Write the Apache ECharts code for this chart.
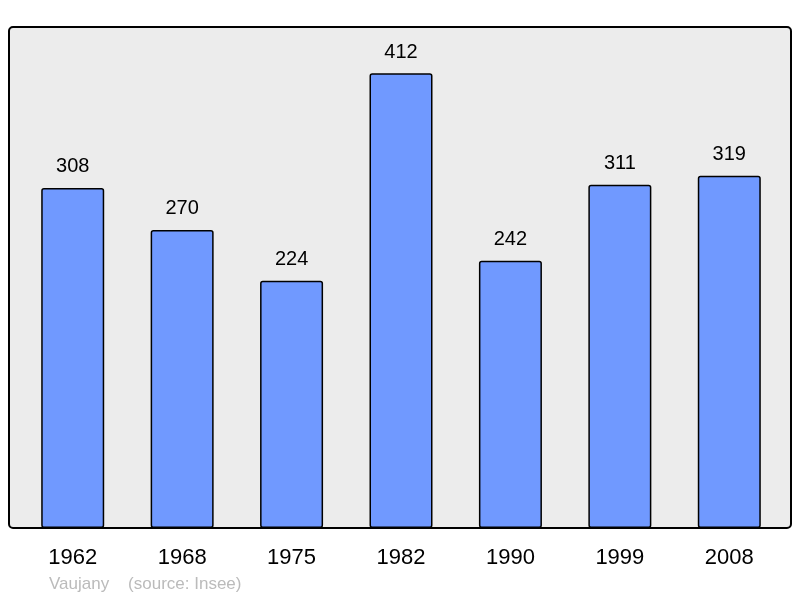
<!DOCTYPE html>
<html><head><meta charset="utf-8">
<script src="https://cdn.jsdelivr.net/npm/echarts@6/dist/echarts.min.js"></script>
<style>html,body{margin:0;padding:0;background:#fff}#c{width:800px;height:598px}</style>
</head><body><div id="c"></div>
<script>
const categories = ['1962','1968','1975','1982','1990','1999','2008'];
const population = [308, 270, 224, 412, 242, 311, 319];
const footerText = 'Vaujany    (source: Insee)';

const chart = echarts.init(document.getElementById('c'), null, {renderer: 'canvas'});
chart.setOption({
  animation: false,
  backgroundColor: '#ffffff',
  graphic: [
    {type: 'rect', z: -10, shape: {x: 9, y: 27, width: 782, height: 501, r: 4},
     style: {fill: '#ececec', stroke: '#000', lineWidth: 2}},
    {type: 'text', left: 49, top: 576, style: {text: footerText, fill: '#bbbbbb', font: '17px "Liberation Sans", Arial, sans-serif'}}
  ],
  grid: {left: 18, right: 16, top: 27, bottom: 70, containLabel: false},
  xAxis: {
    type: 'category', data: categories,
    axisLine: {show: false}, axisTick: {show: false},
    axisLabel: {color: '#000', fontSize: 22, fontFamily: '"Liberation Sans", Arial, sans-serif', margin: 19}
  },
  yAxis: {type: 'value', min: 0, max: 453.8, show: false, splitLine: {show: false}},
  series: [{
    type: 'bar', data: population, barWidth: 63,
    itemStyle: {color: '#7099ff', borderColor: '#000', borderWidth: 1.5, borderRadius: 2},
    label: {show: true, position: 'top', distance: 11, color: '#000', fontSize: 20,
            fontFamily: '"Liberation Sans", Arial, sans-serif'}
  }]
});
</script></body></html>
